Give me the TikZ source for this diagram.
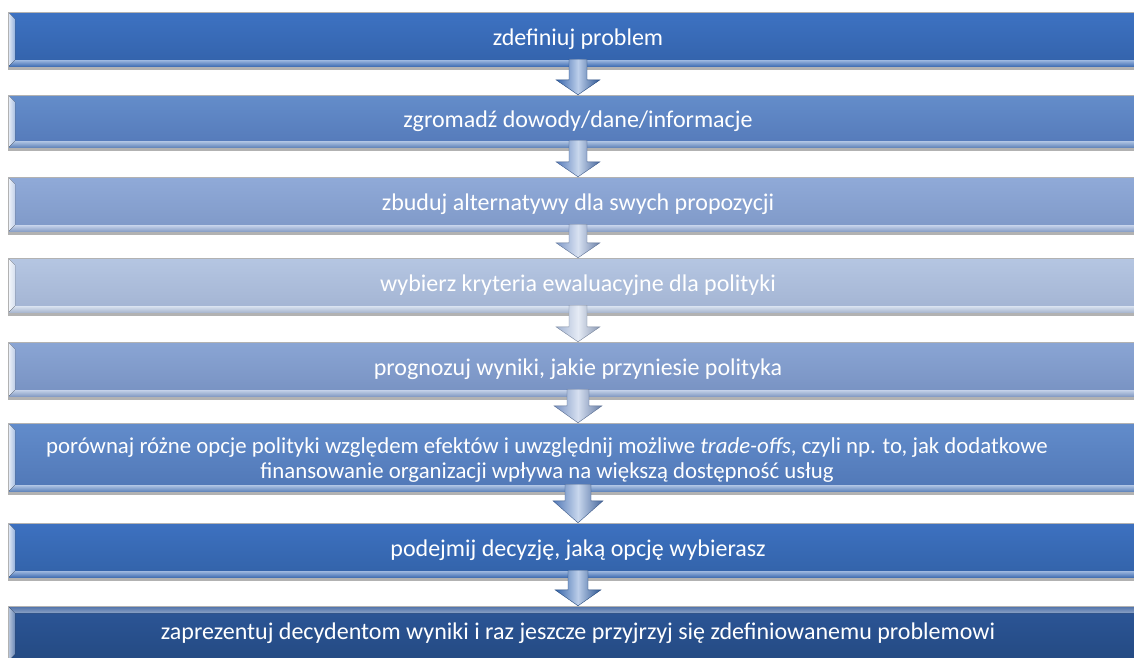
\documentclass[tikz,border=0pt]{standalone}
\usepackage{fontspec}
\setmainfont{Carlito}
\usepackage{tikz}
\usetikzlibrary{calc,shadows}
\definecolor{bar1a}{HTML}{3D72C2}
\definecolor{bar1b}{HTML}{3362AA}
\definecolor{bar2a}{HTML}{648DCA}
\definecolor{bar2b}{HTML}{5479B9}
\definecolor{bar3a}{HTML}{90AAD8}
\definecolor{bar3b}{HTML}{7E98C7}
\definecolor{bar4a}{HTML}{B5C6E2}
\definecolor{bar4b}{HTML}{A2B3D2}
\definecolor{bar5a}{HTML}{8AA5D4}
\definecolor{bar5b}{HTML}{7791C1}
\definecolor{bar6a}{HTML}{628CCB}
\definecolor{bar6b}{HTML}{5077B6}
\definecolor{bar7a}{HTML}{3D71C0}
\definecolor{bar7b}{HTML}{3262A8}
\definecolor{bar8a}{HTML}{2C5698}
\definecolor{bar8b}{HTML}{244A82}
\tikzset{
  bar/.style={rectangle,minimum width=1140pt,minimum height=55pt,inner sep=0pt,align=center,
    text=white,font=\fontsize{24}{26}\selectfont,draw=black!30,line width=0.4pt,
    drop shadow={shadow xshift=0pt,shadow yshift=-3pt,opacity=0.3,fill=black}},
  bartext/.style={text=white,align=center,inner sep=0pt,font=\fontsize{22.8}{25}\selectfont},
  tone/.style={top color=#1a,bottom color=#1b,
    path picture={
      \coordinate (sw) at (path picture bounding box.south west);
      \coordinate (nw) at (path picture bounding box.north west);
      \coordinate (se) at (path picture bounding box.south east);
      \fill[left color=#1a!12!white,right color=#1a!55!white] (sw)--(nw)--($(nw)+(7pt,-7pt)$)--($(sw)+(7pt,7pt)$)--cycle;
      \fill[top color=#1a!50!white,bottom color=#1a!90!black] (sw)--($(sw)+(7pt,7pt)$)--($(se)+(-7pt,7pt)$)--(se)--cycle;
    }},
  tonetop/.style={top color=#1a,bottom color=#1b,
    path picture={
      \coordinate (sw) at (path picture bounding box.south west);
      \coordinate (nw) at (path picture bounding box.north west);
      \coordinate (ne) at (path picture bounding box.north east);
      \fill[left color=#1a!30!white,right color=#1a!70!white] (sw)--(nw)--($(nw)+(7pt,-7pt)$)--($(sw)+(7pt,7pt)$)--cycle;
      \fill[top color=#1a!85!white,bottom color=#1a!55!white] (nw)--($(nw)+(7pt,-7pt)$)--($(ne)+(-7pt,-7pt)$)--(ne)--cycle;
    }},
  arr/.style={draw=#1b!75!black,line width=0.4pt,left color=#1b,right color=#1b!85!black,middle color=#1a!35!white}
}
\begin{document}
\begin{tikzpicture}[x=1pt,y=1pt]
\useasboundingbox (0,0) rectangle (1134,-657);
% the eight steps
\node[bar,tone=bar1] (b1) at (578,-39.5) {zdefiniuj problem};
\node[bar,tone=bar2,minimum height=53pt] (b2) at (578,-121.5) {zgromadź dowody/dane/informacje};
\node[bar,tone=bar3] (b3) at (578,-204.5) {zbuduj alternatywy dla swych propozycji};
\node[bar,tone=bar4] (b4) at (578,-285.5) {wybierz kryteria ewaluacyjne dla polityki};
\node[bar,tone=bar5] (b5) at (578,-369.5) {prognozuj wyniki, jakie przyniesie polityka};
\node[bar,tone=bar6,minimum height=69pt,
  label={[bartext,xshift=-31pt,yshift=-3pt]center:porównaj różne opcje polityki względem efektów i uwzględnij możliwe \textit{trade-offs}, czyli np. to, jak dodatkowe\\finansowanie organizacji wpływa na większą dostępność usług}]
  (b6) at (578,-457.5) {};
\node[bar,tone=bar7] (b7) at (578,-550.5) {podejmij decyzję, jaką opcję wybierasz};
\node[bar,tonetop=bar8] (b8) at (578,-633.5) {zaprezentuj decydentom wyniki i raz jeszcze przyjrzyj się zdefiniowanemu problemowi};
% block arrows between steps
\foreach \u/\v/\col/\s/\h/\k in {b1/b2/bar1/9pt/22pt/15pt,b2/b3/bar2/9pt/22pt/15pt,b3/b4/bar3/9pt/22pt/15pt,
    b4/b5/bar4/9pt/22pt/15pt,b5/b6/bar5/11pt/24pt/17pt,b6/b7/bar6/13pt/25pt/22pt,b7/b8/bar7/10pt/23pt/16pt}
  \draw[arr=\col] let \p1=(\u.south),\p2=(\v.north) in
    (\x1-\s,\y1+8pt)--(\x1-\s,\y2+\k)--(\x1-\h,\y2+\k)--(\x2,\y2)--(\x1+\h,\y2+\k)--(\x1+\s,\y2+\k)--(\x1+\s,\y1+8pt)--cycle;
\end{tikzpicture}
\end{document}
